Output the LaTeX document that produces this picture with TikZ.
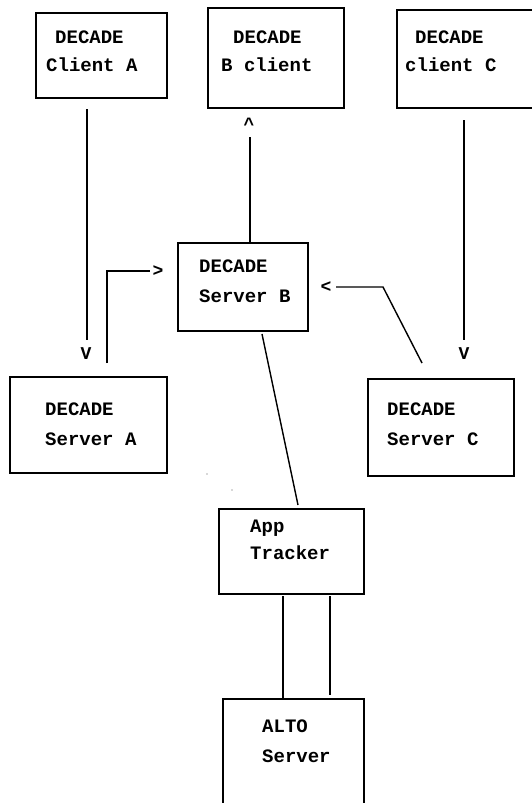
\documentclass[tikz,border=0pt]{standalone}
\usepackage{fontspec}
\setmonofont{Liberation Mono}
\begin{document}
\begin{tikzpicture}[x=1pt,y=-1pt,
  box/.style={draw=black,line width=1.7pt,fill=none},
  lbl/.style={anchor=base west,inner sep=0pt,font=\ttfamily\bfseries\fontsize{19}{19}\selectfont},
  glyph/.style={inner sep=0pt,font=\ttfamily\bfseries\fontsize{18}{18}\selectfont},
  conn/.style={draw=black,line width=1.4pt}]
\useasboundingbox (0,0) rectangle (532,803);
\clip (0,0) rectangle (532,803);
\fill[white] (0,0) rectangle (532,803);
% boxes
\node[box,minimum width=131pt,minimum height=85pt,anchor=north west] (ca) at (35,12) {};
\node[box,minimum width=136pt,minimum height=100pt,anchor=north west] (cb) at (207,7) {};
\node[box,minimum width=150pt,minimum height=98pt,anchor=north west] (cc) at (396,9) {};
\node[box,minimum width=130pt,minimum height=88pt,anchor=north west] (sb) at (177,242) {};
\node[box,minimum width=157pt,minimum height=96pt,anchor=north west] (sa) at (9,376) {};
\node[box,minimum width=146pt,minimum height=97pt,anchor=north west] (sc) at (367,378) {};
\node[box,minimum width=145pt,minimum height=85pt,anchor=north west] (at) at (218,508) {};
\node[box,minimum width=141pt,minimum height=120pt,anchor=north west] (al) at (222,698) {};
% labels
\node[lbl] (ca1) at (55,43) {DECADE};
\node[lbl] (ca2) at (46,71) {Client A};
\node[lbl] (cb1) at (233,43) {DECADE};
\node[lbl] (cb2) at (221,71) {B client};
\node[lbl] (cc1) at (415,43) {DECADE};
\node[lbl] (cc2) at (405,71) {client C};
\node[lbl] (sb1) at (199,272) {DECADE};
\node[lbl] (sb2) at (199,302) {Server B};
\node[lbl] (sa1) at (45,415) {DECADE};
\node[lbl] (sa2) at (45,445) {Server A};
\node[lbl] (sc1) at (387,415) {DECADE};
\node[lbl] (sc2) at (387,445) {Server C};
\node[lbl] (at1) at (250,532) {App};
\node[lbl] (at2) at (250,559) {Tracker};
\node[lbl] (al1) at (262,732) {ALTO};
\node[lbl] (al2) at (262,762) {Server};
% arrow glyphs
\node[glyph] (va) at (86,354) {V};
\node[glyph] (vc) at (464,354) {V};
\node[glyph] (up) at (249,124) {\textasciicircum};
\node[glyph] (gt) at (158,271) {>};
\node[glyph] (lt) at (326,287) {<};
% connector end points
\coordinate (a1) at (87,109);
\coordinate (a2) at (87,340);
\coordinate (b1) at (250,137);
\coordinate (c1) at (464,120);
\coordinate (c2) at (464,340);
\coordinate (s1) at (107,363);
\coordinate (s2) at (107,271);
\coordinate (s3) at (150,271);
\coordinate (t1) at (422,363);
\coordinate (t2) at (383,287);
\coordinate (t3) at (336,287);
\coordinate (u1) at (262,334);
\coordinate (u2) at (298,505);
\coordinate (p1) at (283,596);
\coordinate (p2) at (330,596);
\coordinate (p3) at (330,695);
% connectors
\draw[conn] (a1) -- (a2);
\draw[conn] (b1) -- (b1 |- sb.north);
\draw[conn] (c1) -- (c2);
\draw[conn] (s1) -- (s2) -- (s3);
\draw[conn] (t1) -- (t2) -- (t3);
\draw[conn] (u1) -- (u2);
\draw[conn] (p1) -- (p1 |- al.north);
\draw[conn] (p2) -- (p3);
% stray specks
\fill[gray!60] (207,474) circle (0.9);
\fill[gray!60] (232,490) circle (0.9);
\end{tikzpicture}
\end{document}
